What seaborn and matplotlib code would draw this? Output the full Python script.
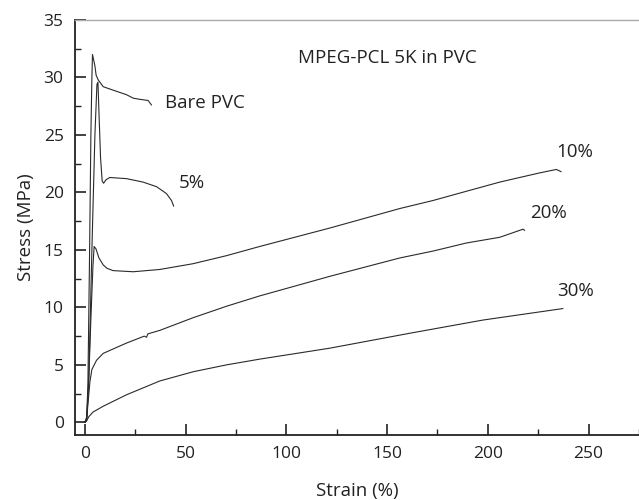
import numpy as np
import pandas as pd
import matplotlib
matplotlib.use('Agg')
import matplotlib.pyplot as plt
import seaborn as sns
from matplotlib.ticker import MultipleLocator

# stress-strain curves (strain %, stress MPa)
bare_strain = [0, 0.8, 1.5, 2.3, 3.0, 3.5, 3.8, 4.3, 5.0, 5.6, 6.6, 9.1, 14.0, 20.7, 24.0, 27.3, 31.4, 33.1]
bare_stress = [0, 0.2, 3.0, 14.0, 25.0, 30.0, 32.0, 31.6, 31.0, 30.2, 29.8, 29.2, 28.9, 28.5, 28.2, 28.1, 28.0, 27.6]

pvc5_strain = [0, 1.0, 2.0, 3.5, 5.0, 6.0, 6.5, 7.0, 7.8, 8.6, 9.3, 10.5, 12.4, 20.7, 28.9, 35.6, 40.5, 43.0, 44.1]
pvc5_stress = [0, 0.3, 4.0, 15.0, 25.0, 29.4, 29.6, 27.0, 23.0, 21.0, 20.8, 21.1, 21.3, 21.2, 20.9, 20.5, 19.9, 19.3, 18.8]

pvc10_strain = [0, 1.0, 2.0, 3.0, 4.0, 4.6, 5.5, 7.0, 9.1, 11.0, 14.0, 24.0, 37.2, 53.7, 70.3, 86.8,
                121.5, 156.3, 172.8, 189.3, 205.9, 225.7, 234.0, 236.4]
pvc10_stress = [0, 0.5, 4.0, 9.0, 13.5, 15.3, 15.1, 14.3, 13.7, 13.4, 13.2, 13.1, 13.3, 13.8, 14.5, 15.3,
                16.9, 18.6, 19.3, 20.1, 20.9, 21.7, 22.0, 21.8]

pvc20_strain = [0, 0.8, 1.5, 2.5, 3.5, 5.8, 9.1, 20.7, 29.5, 30.6, 31.3, 37.2, 53.7, 70.3, 86.8,
                121.5, 156.3, 172.8, 189.3, 205.9, 212.5, 217.4, 218.3]
pvc20_stress = [0, 0.1, 1.5, 3.5, 4.6, 5.4, 6.0, 6.9, 7.5, 7.4, 7.7, 8.0, 9.1, 10.1, 11.0,
                12.7, 14.3, 14.9, 15.6, 16.1, 16.5, 16.8, 16.7]

pvc30_strain = [0, 0.8, 2.0, 4.1, 9.1, 20.7, 37.2, 53.7, 70.3, 86.8, 121.5, 161.2, 197.6, 237.3]
pvc30_stress = [0, 0.1, 0.5, 0.9, 1.4, 2.4, 3.6, 4.4, 5.0, 5.5, 6.45, 7.75, 8.9, 9.9]

curve_names = ['Bare PVC', '5%', '10%', '20%', '30%']
curves = [(bare_strain, bare_stress), (pvc5_strain, pvc5_stress), (pvc10_strain, pvc10_stress),
          (pvc20_strain, pvc20_stress), (pvc30_strain, pvc30_stress)]

# label positions (data coords)
label_pos = {'Bare PVC': (40, 27.8), '5%': (46.5, 20.8), '10%': (243, 23.5),
             '20%': (230, 18.2), '30%': (243.5, 11.4)}

sns.set_style('ticks')
plt.rcParams['font.family'] = ['Open Sans', 'DejaVu Sans']

fig = plt.figure(figsize=(6.39, 5.0), dpi=100)
ax = fig.add_axes([0.117, 0.13, 0.883, 0.83])

for name, (x, y) in zip(curve_names, curves):
    df = pd.DataFrame({'strain': x, 'stress': y})
    sns.lineplot(data=df, x='strain', y='stress', sort=False, ax=ax,
                 color='#2a2a2a', linewidth=0.8, estimator=None)
    lx, ly = label_pos[name]
    ha = 'left' if name in ('Bare PVC', '5%') else 'center'
    ax.text(lx, ly, name, fontsize=13.5, color='#222222', ha=ha, va='center')

ax.text(106, 31.7, 'MPEG-PCL 5K in PVC', fontsize=13.5, color='#222222', ha='left', va='center')

ax.set_xlim(-5, 275)
ax.set_ylim(-1.1, 35)
ax.xaxis.set_major_locator(MultipleLocator(50))
ax.xaxis.set_minor_locator(MultipleLocator(25))
ax.yaxis.set_major_locator(MultipleLocator(5))
ax.yaxis.set_minor_locator(MultipleLocator(2.5))
ax.tick_params(which='major', direction='in', length=8, width=1.2, labelsize=12.5,
               colors='#222222', pad=8)
ax.tick_params(which='minor', direction='in', length=4, width=1.0, colors='#222222')

ax.set_xlabel('Strain (%)', fontsize=13.5, color='#222222', labelpad=14)
ax.set_ylabel('Stress (MPa)', fontsize=13.5, color='#222222', labelpad=6)

for s in ('left', 'bottom'):
    ax.spines[s].set_linewidth(1.3)
    ax.spines[s].set_color('#222222')
ax.spines['top'].set_color('#aaaaaa')
ax.spines['top'].set_linewidth(1.0)
ax.spines['right'].set_visible(False)

fig.savefig('out.png', dpi=100)
